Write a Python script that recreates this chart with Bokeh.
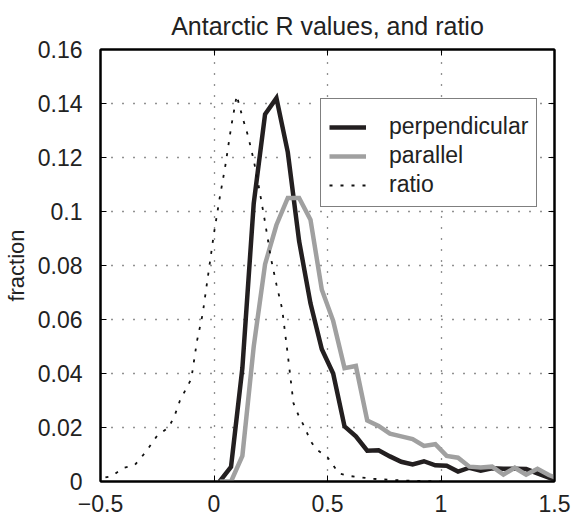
from bokeh.plotting import figure
from bokeh.models import Range1d, LinearAxis, FixedTicker, Legend, LegendItem
from bokeh.embed import file_html
from bokeh.resources import INLINE

# ---------------- data ----------------
bin_x = [0.025, 0.075, 0.125, 0.175, 0.225, 0.275, 0.325, 0.375, 0.425, 0.475,
         0.525, 0.575, 0.625, 0.675, 0.725, 0.775, 0.825, 0.875, 0.925, 0.975,
         1.025, 1.075, 1.125, 1.175, 1.225, 1.275, 1.325, 1.375, 1.425, 1.475, 1.525]
perpendicular = [0.0, 0.0054, 0.042, 0.103, 0.136, 0.142, 0.122, 0.089, 0.066, 0.049,
                 0.040, 0.0204, 0.0167, 0.0114, 0.0116, 0.0093, 0.0073, 0.0063, 0.0075, 0.0060,
                 0.0058, 0.0037, 0.0051, 0.0040, 0.0049, 0.0047, 0.0047, 0.0046, 0.0030, 0.0014, 0.0]
parallel = [0.0, 0.0, 0.0095, 0.050, 0.0805, 0.095, 0.105, 0.105, 0.097, 0.071,
            0.0595, 0.0420, 0.0428, 0.0226, 0.0206, 0.0177, 0.0167, 0.0157, 0.0132, 0.0138,
            0.0095, 0.0088, 0.0055, 0.0052, 0.0055, 0.0026, 0.0051, 0.0025, 0.0047, 0.0024, 0.0008]

ratio_x = [-0.525, -0.5, -0.45, -0.4, -0.35, -0.3, -0.25, -0.2, -0.175, -0.15, -0.125,
           -0.1, -0.075, -0.05, -0.025, 0.0, 0.025, 0.05, 0.075, 0.1, 0.125, 0.15,
           0.175, 0.2, 0.225, 0.25, 0.275, 0.3, 0.325, 0.35, 0.375, 0.4, 0.425,
           0.45, 0.5, 0.525, 0.55, 0.6, 0.7, 0.8, 0.9, 1.0]
ratio = [0.0005, 0.0012, 0.002, 0.005, 0.006, 0.011, 0.017, 0.020, 0.024, 0.030, 0.034,
         0.038, 0.052, 0.062, 0.077, 0.092, 0.105, 0.117, 0.131, 0.143, 0.135, 0.128,
         0.119, 0.108, 0.096, 0.083, 0.073, 0.064, 0.047, 0.029, 0.024, 0.020, 0.015,
         0.012, 0.009, 0.006, 0.003, 0.002, 0.001, 0.0005, 0.0002, 0.0]

x_ticks = [-0.5, 0, 0.5, 1, 1.5]
x_tick_labels = ["\u22120.5", "0", "0.5", "1", "1.5"]
y_ticks = [0, 0.02, 0.04, 0.06, 0.08, 0.1, 0.12, 0.14, 0.16]
y_tick_labels = ["0", "0.02", "0.04", "0.06", "0.08", "0.1", "0.12", "0.14", "0.16"]

title_text = "Antarctic R values, and ratio"
y_label = "fraction"
series_names = ["perpendicular", "parallel", "ratio"]

FONT = "Liberation Sans"
TICK_FS = "23px"
TEXT_COLOR = "#222222"

# ---------------- figure ----------------
p = figure(width=572, height=516, x_range=Range1d(-0.5, 1.5), y_range=Range1d(0, 0.16),
           output_backend="svg", toolbar_location=None,
           min_border_left=100, min_border_right=18, min_border_top=49, min_border_bottom=35)
p.background_fill_color = "white"
p.border_fill_color = "white"
p.outline_line_color = "black"
p.outline_line_width = 2

p.title.text = title_text
p.title.align = "center"
p.title.text_font = FONT
p.title.text_font_size = "25px"
p.title.text_font_style = "normal"
p.title.text_color = TEXT_COLOR
p.title.text_line_height = 0.6
p.title.standoff = 19


def style_axis(ax):
    ax.axis_line_color = "black"
    ax.axis_line_width = 2
    ax.major_tick_in = 6
    ax.major_tick_out = 0
    ax.major_tick_line_color = "black"
    ax.major_tick_line_width = 1
    ax.minor_tick_line_color = None
    ax.major_label_text_font = FONT
    ax.major_label_text_color = TEXT_COLOR
    ax.major_label_text_font_size = TICK_FS


p.xaxis.ticker = FixedTicker(ticks=x_ticks)
p.yaxis.ticker = FixedTicker(ticks=y_ticks)
p.xaxis.major_label_overrides = {t: l for t, l in zip(x_ticks, x_tick_labels)}
p.yaxis.major_label_overrides = {t: l for t, l in zip(y_ticks, y_tick_labels)}
for ax in p.xaxis + p.yaxis:
    style_axis(ax)
p.xaxis.major_label_standoff = 13
p.yaxis.major_label_standoff = 18

p.yaxis.axis_label = y_label
p.yaxis.axis_label_text_font = FONT
p.yaxis.axis_label_text_font_size = "22px"
p.yaxis.axis_label_text_font_style = "normal"
p.yaxis.axis_label_text_color = TEXT_COLOR
p.yaxis.axis_label_standoff = 6

# mirrored inward ticks on top and right, without labels
ax_top = LinearAxis(ticker=FixedTicker(ticks=x_ticks))
style_axis(ax_top)
ax_top.major_label_overrides = {t: "" for t in x_ticks}
ax_top.major_label_standoff = 0
p.add_layout(ax_top, "above")
ax_right = LinearAxis(ticker=FixedTicker(ticks=y_ticks))
style_axis(ax_right)
ax_right.major_label_overrides = {t: "" for t in y_ticks}
ax_right.major_label_standoff = 0
p.add_layout(ax_right, "right")

for g in (p.xgrid, p.ygrid):
    g.grid_line_color = "#222222"
    g.grid_line_dash = "1 10"
    g.grid_line_width = 1.3
    g.grid_line_alpha = 1.0

# ---------------- lines ----------------
r_perp = p.line(bin_x, perpendicular, line_color="#231f20", line_width=4.5,
                line_join="miter", line_cap="butt")
r_par = p.line(bin_x, parallel, line_color="#a0a0a0", line_width=4.5,
               line_join="miter", line_cap="butt")
r_ratio = p.line(ratio_x, ratio, line_color="#111111", line_width=1.8, line_dash="3 8")

legend = Legend(items=[LegendItem(label=series_names[0], renderers=[r_perp]),
                       LegendItem(label=series_names[1], renderers=[r_par]),
                       LegendItem(label=series_names[2], renderers=[r_ratio])],
                location=(220, 274))
legend.title = " "
legend.title_text_font_size = "6px"
legend.title_standoff = 0
legend.label_text_font = FONT
legend.label_text_font_size = "23px"
legend.label_text_color = TEXT_COLOR
legend.glyph_width = 37
legend.glyph_height = 24
legend.label_height = 24
legend.label_standoff = 23
legend.spacing = 2
legend.padding = 8
legend.margin = 0
legend.border_line_color = "black"
legend.border_line_width = 1
legend.background_fill_color = "white"
legend.background_fill_alpha = 1.0
p.add_layout(legend)

open("out.html", "w").write(file_html(p, INLINE))
